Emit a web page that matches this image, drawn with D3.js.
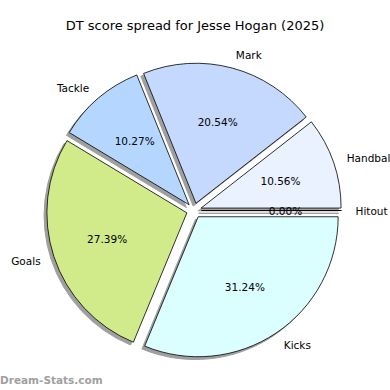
<!DOCTYPE html>
<html><head><meta charset="utf-8">
<script src="https://cdn.jsdelivr.net/npm/d3@7"></script>
<style>body{margin:0;background:#fff}svg{display:block}</style>
</head><body>
<svg id="c" width="390" height="390"></svg>
<script>
const categories = ["Kicks", "Goals", "Tackle", "Mark", "Handball", "Hitout"];
const values = [31.24, 27.39, 10.27, 20.54, 10.56, 0.00];
const colors = ["#dbfeff", "#d1eb8b", "#b5d7ff", "#c5d9ff", "#eaf1ff", "#ffffff"];
const title = "DT score spread for Jesse Hogan (2025)";
const watermark = "Dream-Stats.com";

const svg = d3.select("#c");
const cx = 194, cy = 210.5, r = 140, ex = 7.5, sh = 2.8;
const data = categories.map((c, i) => ({cat: c, val: values[i], col: colors[i]}));
const pie = d3.pie().value(d => d.val).sort(null)
  .startAngle(Math.PI / 2).endAngle(Math.PI / 2 + 2 * Math.PI);
const arcs = pie(data);
const arc = d3.arc().innerRadius(0).outerRadius(r);
const total = d3.sum(values);
const off = d => { const m = (d.startAngle + d.endAngle) / 2; return [Math.sin(m), -Math.cos(m)]; };

const g = svg.append("g").attr("transform", `translate(${cx},${cy})`);
// shadows
g.selectAll("path.sh").data(arcs).join("path").attr("class", "sh")
  .attr("d", arc)
  .attr("transform", d => { const [x, y] = off(d); return `translate(${x * ex - sh},${y * ex + sh})`; })
  .attr("fill", "#959595").attr("stroke", "#959595").attr("stroke-width", 1).attr("opacity", 0.9);
// wedges
g.selectAll("path.w").data(arcs).join("path").attr("class", "w")
  .attr("d", arc)
  .attr("transform", d => { const [x, y] = off(d); return `translate(${x * ex},${y * ex})`; })
  .attr("fill", d => d.data.col).attr("stroke", "#000").attr("stroke-width", 0.8)
  .attr("stroke-linejoin", "round");
// pct labels
g.selectAll("text.p").data(arcs).join("text").attr("class", "p")
  .attr("x", d => off(d)[0] * (ex + 0.6 * r))
  .attr("y", d => off(d)[1] * (ex + 0.6 * r))
  .attr("text-anchor", "middle").attr("dominant-baseline", "central")
  .attr("font-family", "DejaVu Sans").attr("font-size", 10.5)
  .text(d => (d.data.val / total * 100).toFixed(2) + "%");
// category labels
g.selectAll("text.l").data(arcs).join("text").attr("class", "l")
  .attr("x", d => off(d)[0] * (ex + 1.1 * r))
  .attr("y", d => off(d)[1] * (ex + 1.1 * r))
  .attr("text-anchor", d => off(d)[0] >= 0 ? "start" : "end")
  .attr("dominant-baseline", "central")
  .attr("font-family", "DejaVu Sans").attr("font-size", 10.5)
  .text(d => d.data.cat);

svg.append("text").attr("x", 195).attr("y", 25).attr("text-anchor", "middle")
  .attr("dominant-baseline", "central")
  .attr("font-family", "DejaVu Sans").attr("font-size", 13).text(title);
svg.append("text").attr("x", 0).attr("y", 384)
  .attr("font-family", "DejaVu Sans").attr("font-weight", "bold").attr("font-size", 10.5)
  .attr("fill", "#a0a0a0").text(watermark);
</script>
</body></html>
